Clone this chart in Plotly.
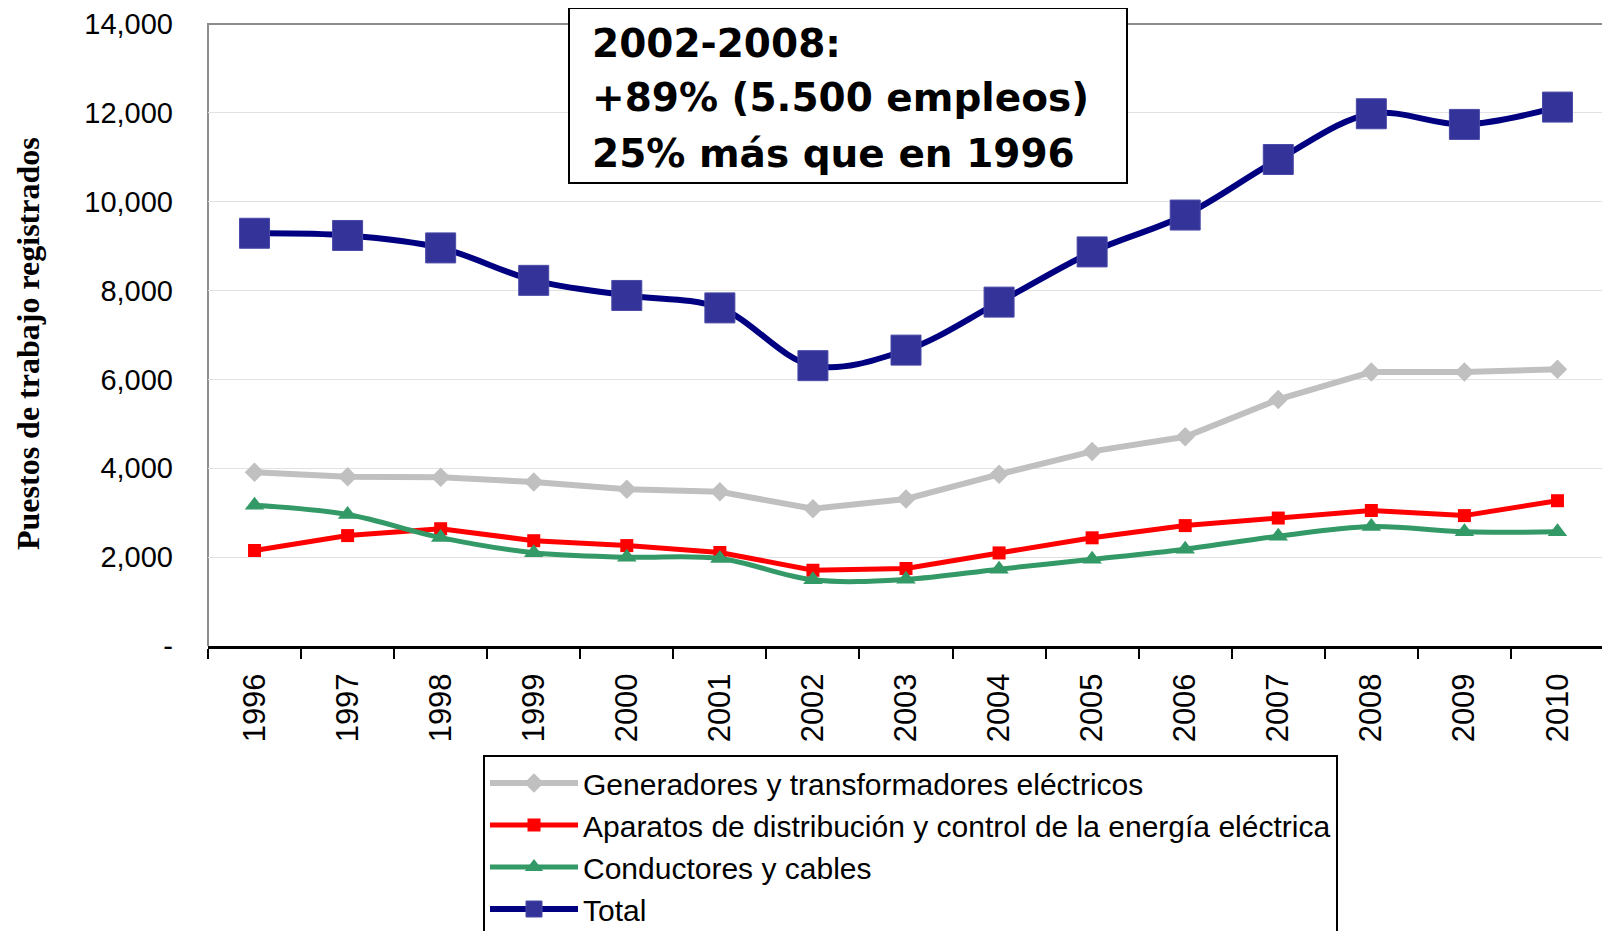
import plotly.graph_objects as go

years = [str(y) for y in range(1996, 2011)]
generadores = [3910, 3810, 3800, 3690, 3530, 3470, 3090, 3310, 3865, 4380, 4710, 5550, 6165, 6165, 6230]
aparatos = [2150, 2485, 2640, 2370, 2260, 2105, 1705, 1745, 2095, 2435, 2710, 2880, 3050, 2935, 3270]
conductores = [3170, 2960, 2440, 2100, 2000, 1970, 1490, 1500, 1730, 1950, 2180, 2470, 2690, 2570, 2570]
total = [9290, 9240, 8960, 8230, 7890, 7610, 6310, 6660, 7740, 8870, 9700, 10950, 11980, 11740, 12130]

names = ["Generadores y transformadores eléctricos",
         "Aparatos de distribución y control de la energía eléctrica",
         "Conductores y cables",
         "Total"]

ytick_vals = [0, 2000, 4000, 6000, 8000, 10000, 12000, 14000]
ytick_text = ["-", "2,000", "4,000", "6,000", "8,000", "10,000", "12,000", "14,000"]

box_lines = ["2002-2008:", "+89% (5.500 empleos)", "25% más que en 1996"]

fig = go.Figure()
fig.add_trace(go.Scatter(x=years, y=generadores, name=names[0], mode="lines+markers",
                         line=dict(color="#C0C0C0", width=6),
                         marker=dict(symbol="diamond", size=15, color="#C0C0C0")))
fig.add_trace(go.Scatter(x=years, y=aparatos, name=names[1], mode="lines+markers",
                         line=dict(color="#FF0000", width=5),
                         marker=dict(symbol="square", size=13, color="#FF0000")))
fig.add_trace(go.Scatter(x=years, y=conductores, name=names[2], mode="lines+markers",
                         line=dict(color="#339966", width=5, shape="spline", smoothing=1),
                         marker=dict(symbol="triangle-up", size=17, color="#339966")))
fig.add_trace(go.Scatter(x=years, y=total, name=names[3], mode="lines+markers",
                         line=dict(color="#000080", width=6, shape="spline", smoothing=1),
                         marker=dict(symbol="square", size=30, color="#333399",
                                     line=dict(color="#4a4aa8", width=1))))

# the page body adds an 8px offset; figure is sized so the screenshot lines up
OFF = 8
W, H = 1610 - OFF, 931 - OFF
ml, mr, mt, mb = 208 - OFF, 6, 24 - OFF, 285
pw, ph = W - ml - mr, H - mt - mb

def px_x(p):
    return (p - OFF - ml) / pw

def px_y(p):
    return (H - mb - (p - OFF)) / ph

shapes = [
    dict(type="path", xref="paper", yref="paper", path="M 0,0 L 0,1 L 1,1 L 1,0",
         line=dict(color="#8C8C8C", width=2), layer="below"),
    dict(type="rect", xref="paper", yref="paper",
         x0=px_x(569), x1=px_x(1127), y0=px_y(183), y1=px_y(8),
         line=dict(color="black", width=2), fillcolor="white", layer="above"),
]

annotations = [
    dict(text="Puestos de trabajo registrados", textangle=-90, xref="paper", yref="paper",
         x=px_x(28), y=px_y(344), xanchor="center", yanchor="middle", showarrow=False,
         font=dict(family="Liberation Serif, Times New Roman, serif", size=32, color="black",
                   weight="bold")),
]
for txt, yc in zip(box_lines, [43, 97.5, 153]):
    annotations.append(dict(text=txt, xref="paper", yref="paper", x=px_x(590), y=px_y(yc),
                            xanchor="left", yanchor="middle", showarrow=False,
                            font=dict(family="DejaVu Sans, Verdana, sans-serif", size=39,
                                      color="black", weight="bold")))

fig.update_layout(
    width=W, height=H,
    margin=dict(l=ml, r=mr, t=mt, b=mb, pad=0, autoexpand=False),
    paper_bgcolor="white", plot_bgcolor="white",
    font=dict(family="Liberation Sans, Arial, sans-serif", color="black"),
    showlegend=True,
    legend=dict(x=px_x(483), y=px_y(755), xanchor="left", yanchor="top",
                bordercolor="black", borderwidth=2, bgcolor="white",
                font=dict(size=30, family="Liberation Sans, Arial, sans-serif"),
                traceorder="normal", itemwidth=88),
    shapes=shapes,
    annotations=annotations,
    xaxis=dict(type="category", range=[-0.5, 14.5], showgrid=False,
               showline=True, linecolor="black", linewidth=3,
               ticks="outside", tickson="boundaries", ticklen=10, tickwidth=2, tickcolor="black",
               tickangle=-90, tickfont=dict(size=31), ticklabelstandoff=12),
    yaxis=dict(range=[0, 14000], tickvals=ytick_vals, ticktext=ytick_text,
               showgrid=True, gridcolor="#E2E2E2", gridwidth=1,
               showline=False, zeroline=False, ticks="",
               tickfont=dict(size=29), ticklabelstandoff=34),
)

fig.write_html("out.html")
